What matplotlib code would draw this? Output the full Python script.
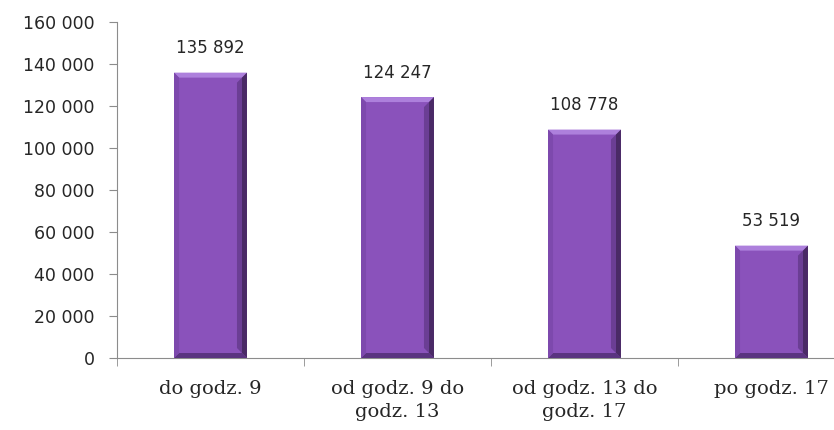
import matplotlib.pyplot as plt
from matplotlib.patches import Polygon
from matplotlib.ticker import FuncFormatter
import numpy as np

categories = ["do godz. 9", "od godz. 9 do\ngodz. 13", "od godz. 13 do\ngodz. 17", "po godz. 17"]
values = [135892, 124247, 108778, 53519]
y_ticks = [0, 20000, 40000, 60000, 80000, 100000, 120000, 140000, 160000]

bar_color = "#8a52bb"
axis_color = "#8c8c8c"
text_color = "#262626"


def spaced(v, pos=None):
    return "{:,}".format(int(v)).replace(",", " ")


fig = plt.figure(figsize=(8.34, 4.30), dpi=100)
ax = fig.add_axes([117 / 834, 72 / 430, 748 / 834, 336 / 430])

x = np.arange(len(values))
bars = ax.bar(x, values, width=0.39, color=bar_color, zorder=2)

ax.set_xlim(-0.5, len(values) - 0.5)
ax.set_ylim(0, 160000)

# bevel look: pixel sizes converted to data units
px_x = (len(values)) / 748
px_y = 160000 / 336
bx, by = 5 * px_x, 5 * px_y
for rect in bars:
    x0, w, h = rect.get_x(), rect.get_width(), rect.get_height()
    x1 = x0 + w
    faces = [
        ([(x0, h), (x1, h), (x1 - bx, h - by), (x0 + bx, h - by)], "#ad80dc"),
        ([(x0, 0), (x1, 0), (x1 - bx, by), (x0 + bx, by)], "#5a3380"),
        ([(x0, 0), (x0, h), (x0 + bx, h - by), (x0 + bx, by)], "#7d49ad"),
        ([(x1, 0), (x1, h), (x1 - bx, h - by), (x1 - bx, by)], "#4a2a66"),
        ([(x1 - bx, by), (x1 - bx, h - by), (x1 - 2 * bx, h - 2 * by), (x1 - 2 * bx, 2 * by)], "#6b3e94"),
    ]
    for pts, c in faces:
        ax.add_patch(Polygon(pts, closed=True, facecolor=c, edgecolor="none", zorder=3))
    ax.annotate(spaced(h), (x0 + w / 2, h), xytext=(0, 11), textcoords="offset points",
                ha="center", va="bottom", fontsize=12, color=text_color, family="DejaVu Sans")

ax.set_yticks(y_ticks)
ax.yaxis.set_major_formatter(FuncFormatter(spaced))
ax.set_xticks(x)
ax.set_xticklabels(categories, fontsize=14, family="DejaVu Serif", color=text_color,
                   linespacing=1.35)
ax.set_xticks(np.arange(len(values) + 1) - 0.5, minor=True)
ax.tick_params(axis="x", which="major", length=0, pad=16)
ax.tick_params(axis="x", which="minor", length=6, color=axis_color, direction="out")
ax.tick_params(axis="y", length=6, color=axis_color, direction="out", labelsize=12.5,
               labelcolor=text_color, pad=10)

for s in ["top", "right"]:
    ax.spines[s].set_visible(False)
for s in ["left", "bottom"]:
    ax.spines[s].set_color(axis_color)
ax.spines["bottom"].set_bounds(-0.5, 3.38)

fig.savefig("out.png", dpi=100)
